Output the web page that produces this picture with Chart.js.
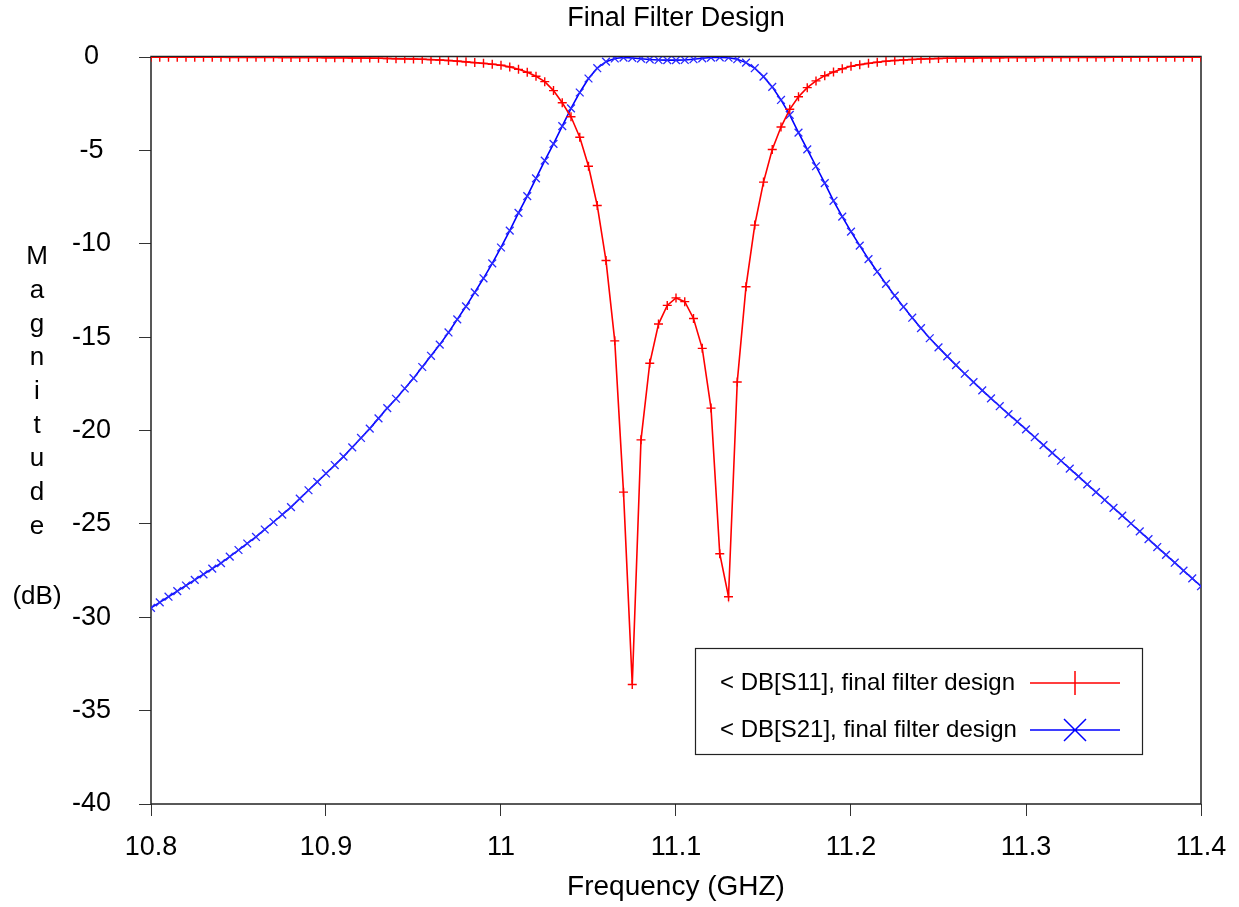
<!DOCTYPE html>
<html>
<head>
<meta charset="utf-8">
<script src="https://cdn.jsdelivr.net/npm/chart.js@4.4.0/dist/chart.umd.min.js"></script>
<style>
  body { margin: 0; background: #fff; }
  canvas { display: block; }
</style>
</head>
<body>
<canvas id="filterChart" width="1239" height="907"></canvas>
<script>
const ctxFilter = document.getElementById('filterChart').getContext('2d');

// frequences (GHz), pas de 0.005
const freq = [
  10.8, 10.805, 10.81, 10.815, 10.82, 10.825, 10.83, 10.835, 10.84, 10.845,
  10.85, 10.855, 10.86, 10.865, 10.87, 10.875, 10.88, 10.885, 10.89, 10.895,
  10.9, 10.905, 10.91, 10.915, 10.92, 10.925, 10.93, 10.935, 10.94, 10.945,
  10.95, 10.955, 10.96, 10.965, 10.97, 10.975, 10.98, 10.985, 10.99, 10.995,
  11.0, 11.005, 11.01, 11.015, 11.02, 11.025, 11.03, 11.035, 11.04, 11.045,
  11.05, 11.055, 11.06, 11.065, 11.07, 11.075, 11.08, 11.085, 11.09, 11.095,
  11.1, 11.105, 11.11, 11.115, 11.12, 11.125, 11.13, 11.135, 11.14, 11.145,
  11.15, 11.155, 11.16, 11.165, 11.17, 11.175, 11.18, 11.185, 11.19, 11.195,
  11.2, 11.205, 11.21, 11.215, 11.22, 11.225, 11.23, 11.235, 11.24, 11.245,
  11.25, 11.255, 11.26, 11.265, 11.27, 11.275, 11.28, 11.285, 11.29, 11.295,
  11.3, 11.305, 11.31, 11.315, 11.32, 11.325, 11.33, 11.335, 11.34, 11.345,
  11.35, 11.355, 11.36, 11.365, 11.37, 11.375, 11.38, 11.385, 11.39, 11.395,
  11.4
];

const s11 = [
  -0.01, -0.01, -0.01, -0.01, -0.01, -0.01, -0.01, -0.01, -0.01, -0.02,
  -0.02, -0.02, -0.02, -0.02, -0.02, -0.03, -0.03, -0.03, -0.03, -0.03,
  -0.04, -0.04, -0.04, -0.05, -0.05, -0.06, -0.07, -0.08, -0.09, -0.10,
  -0.11, -0.12, -0.14, -0.16, -0.19, -0.22, -0.26, -0.30, -0.34, -0.39,
  -0.44, -0.53, -0.66, -0.82, -1.03, -1.32, -1.8, -2.45, -3.2, -4.3,
  -5.85, -7.95, -10.9, -15.2, -23.3, -33.6, -20.5, -16.4, -14.3, -13.3,
  -12.9, -13.1, -14.0, -15.6, -18.8, -26.6, -28.9, -17.4, -12.3, -9.0,
  -6.7, -4.95, -3.75, -2.8, -2.13, -1.64, -1.28, -1.0, -0.8, -0.63,
  -0.5, -0.41, -0.34, -0.28, -0.23, -0.19, -0.16, -0.13, -0.11, -0.09,
  -0.08, -0.07, -0.06, -0.05, -0.05, -0.04, -0.04, -0.04, -0.03, -0.03,
  -0.03, -0.03, -0.02, -0.02, -0.02, -0.02, -0.02, -0.02, -0.02, -0.02,
  -0.01, -0.01, -0.01, -0.01, -0.01, -0.01, -0.01, -0.01, -0.01, -0.01,
  -0.01
];

const s21 = [
  -29.5, -29.2, -28.9, -28.6, -28.3, -28.0, -27.7, -27.4, -27.1, -26.75,
  -26.4, -26.05, -25.7, -25.3, -24.9, -24.5, -24.1, -23.65, -23.2, -22.75,
  -22.3, -21.85, -21.4, -20.9, -20.4, -19.9, -19.35, -18.8, -18.3, -17.75,
  -17.2, -16.6, -16.0, -15.4, -14.75, -14.05, -13.35, -12.6, -11.85, -11.05,
  -10.2, -9.3, -8.35, -7.45, -6.5, -5.55, -4.65, -3.7, -2.75, -1.9,
  -1.15, -0.6, -0.25, -0.08, -0.03, -0.05, -0.09, -0.13, -0.16, -0.17,
  -0.17, -0.16, -0.12, -0.07, -0.03, -0.02, -0.04, -0.12, -0.3, -0.6,
  -1.05, -1.6, -2.3, -3.1, -4.05, -4.95, -5.85, -6.75, -7.7, -8.55,
  -9.35, -10.1, -10.82, -11.5, -12.15, -12.78, -13.38, -13.96, -14.52, -15.06,
  -15.55, -16.03, -16.5, -16.96, -17.41, -17.85, -18.28, -18.7, -19.12, -19.53,
  -19.94, -20.36, -20.78, -21.2, -21.62, -22.04, -22.46, -22.88, -23.3, -23.72,
  -24.14, -24.56, -24.98, -25.4, -25.82, -26.24, -26.66, -27.08, -27.5, -27.92,
  -28.34
];

const xTicks = [10.8, 10.9, 11, 11.1, 11.2, 11.3, 11.4];
const xTickLabels = ['10.8', '10.9', '11', '11.1', '11.2', '11.3', '11.4'];
const yTicks = [0, -5, -10, -15, -20, -25, -30, -35, -40];

const FONT = 'Liberation Sans, Arial, sans-serif';

// cadre, titre, titre vertical de l'axe Y et legende
const decorPlugin = {
  id: 'decor',
  beforeDatasetsDraw(chart) {
    const {ctx, chartArea: a} = chart;
    ctx.save();
    ctx.strokeStyle = '#222';
    ctx.lineWidth = 1.5;
    ctx.strokeRect(a.left, a.top - 0.5, a.right - a.left, a.bottom - a.top + 0.5);
    ctx.restore();
  },
  afterDraw(chart) {
    const {ctx, chartArea: a} = chart;
    ctx.save();
    ctx.fillStyle = '#000';

    // titre
    ctx.font = '27px ' + FONT;
    ctx.textAlign = 'center';
    ctx.textBaseline = 'middle';
    ctx.fillText('Final Filter Design', (a.left + a.right) / 2, 19);

    // Magnitude, une lettre par ligne
    ctx.font = '26px ' + FONT;
    const letters = 'Magnitude'.split('');
    letters.forEach((c, i) => ctx.fillText(c, 37, 257 + i * 33.7));
    ctx.fillText('(dB)', 37, 597);

    // legende
    const bx = 695, by = 648, bw = 447, bh = 106;
    ctx.fillStyle = '#fff';
    ctx.fillRect(bx, by, bw, bh);
    ctx.strokeStyle = '#222';
    ctx.lineWidth = 1.2;
    ctx.strokeRect(bx + 0.5, by + 0.5, bw, bh);
    ctx.font = '24px ' + FONT;
    ctx.textAlign = 'left';
    chart.data.datasets.forEach((ds, i) => {
      const y = 683 + i * 47;
      ctx.fillStyle = '#000';
      ctx.fillText(ds.label, 720, y);
      ctx.strokeStyle = ds.borderColor;
      ctx.lineWidth = 1.5;
      ctx.beginPath();
      ctx.moveTo(1030, y);
      ctx.lineTo(1120, y);
      if (ds.pointStyle === 'cross') {
        ctx.moveTo(1075, y - 12);
        ctx.lineTo(1075, y + 12);
      } else {
        ctx.moveTo(1064, y - 11);
        ctx.lineTo(1086, y + 11);
        ctx.moveTo(1064, y + 11);
        ctx.lineTo(1086, y - 11);
      }
      ctx.stroke();
    });
    ctx.restore();
  }
};

const filterChart = new Chart(ctxFilter, {
  type: 'line',
  data: {
    datasets: [{
      label: '< DB[S11], final filter design',
      data: freq.map((f, i) => ({x: f, y: s11[i]})),
      borderColor: '#ff0000',
      backgroundColor: '#ff0000',
      borderWidth: 1.6,
      pointStyle: 'cross',
      pointRadius: 4.5,
      pointBorderWidth: 1.4,
      pointBorderColor: '#ff0000',
      tension: 0
    }, {
      label: '< DB[S21], final filter design',
      data: freq.map((f, i) => ({x: f, y: s21[i]})),
      borderColor: '#0000ff',
      backgroundColor: '#0000ff',
      borderWidth: 1.6,
      pointStyle: 'crossRot',
      pointRadius: 5.5,
      pointBorderWidth: 1.3,
      pointBorderColor: '#2a2aff',
      tension: 0
    }]
  },
  options: {
    responsive: false,
    animation: false,
    devicePixelRatio: 1,
    layout: {
      padding: {left: 0, right: 38, top: 57, bottom: 0}
    },
    scales: {
      x: {
        type: 'linear',
        min: 10.8,
        max: 11.4,
        afterBuildTicks: (scale) => { scale.ticks = xTicks.map(v => ({value: v})); },
        afterFit: (scale) => {
          scale.height = 103;
          scale.paddingLeft = 0;
          scale.paddingRight = 0;
        },
        border: {display: false},
        grid: {
          drawOnChartArea: false,
          drawTicks: true,
          tickLength: 12,
          color: '#333'
        },
        ticks: {
          color: '#000',
          padding: 15,
          maxRotation: 0,
          callback: (v) => xTickLabels[xTicks.indexOf(v)],
          font: {family: FONT, size: 27}
        },
        title: {
          display: true,
          text: 'Frequency (GHZ)',
          color: '#000',
          padding: {top: 0, bottom: 3},
          font: {family: FONT, size: 28}
        }
      },
      y: {
        min: -40,
        max: 0,
        afterBuildTicks: (scale) => { scale.ticks = yTicks.map(v => ({value: v})); },
        afterFit: (scale) => { scale.width = 151; },
        border: {display: false},
        grid: {
          drawOnChartArea: false,
          drawTicks: true,
          tickLength: 12,
          color: '#333'
        },
        ticks: {
          color: '#000',
          padding: 28,
          crossAlign: 'center',
          font: {family: FONT, size: 27}
        }
      }
    },
    plugins: {
      legend: {display: false},
      title: {display: false},
      tooltip: {enabled: false}
    }
  },
  plugins: [decorPlugin]
});
</script>
</body>
</html>
